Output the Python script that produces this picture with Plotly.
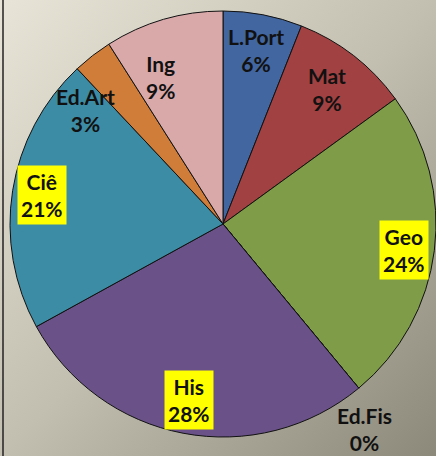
import base64
import math
import plotly.graph_objects as go

# subjects and share of the chart (in %)
subjects = ['L.Port', 'Mat', 'Geo', 'Ed.Fis', 'His', 'Ciê', 'Ed.Art', 'Ing']
shares = [6, 9, 24, 0, 28, 21, 3, 9]
highlighted = ['Geo', 'His', 'Ciê']

slice_colors = ['#4166a0', '#a14141', '#7f9c49', '#888888', '#6a5188', '#3d8ca5', '#cf7d39', '#d9a9aa']

# label placement: radius as fraction of pie radius, angle nudge in degrees
label_r = [0.83, 0.80, 0.86, 1.17, 0.84, 0.86, 0.84, 0.75]
label_nudge = [0, 0, 1, 5, 0, 0, -12.6, -7]

W, H = 436, 456
x0_px, x1_px = 10, 436
y0_px, y1_px = 10, 438
cx, cy = (x0_px + x1_px) / 2, (y0_px + y1_px) / 2
R = min(x1_px - x0_px, y1_px - y0_px) / 2

fig = go.Figure()

fig.add_trace(go.Pie(
    labels=subjects, values=shares,
    sort=False, direction='clockwise', rotation=0,
    marker=dict(colors=slice_colors, line=dict(color='#111111', width=1)),
    textinfo='none', hoverinfo='label+percent',
    showlegend=False,
    domain=dict(x=[x0_px / W, x1_px / W], y=[1 - y1_px / H, 1 - y0_px / H]),
))

# labels, placed at the middle angle of each slice
total = sum(shares)
annotations = []
cum = 0
for i, (name, v) in enumerate(zip(subjects, shares)):
    mid = (cum + v / 2) / total * 360 + label_nudge[i]
    cum += v
    th = math.radians(mid)
    px = cx + label_r[i] * R * math.sin(th)
    py = cy - label_r[i] * R * math.cos(th)
    pct = round(v / total * 100)
    annotations.append(dict(
        x=px / W, y=1 - py / H, xref='paper', yref='paper',
        xanchor='center', yanchor='middle',
        text=f'{name}<br>{pct}%', showarrow=False,
        font=dict(family='Lato', size=21, color='#111111', weight='bold'),
        bgcolor='#ffff00' if name in highlighted else 'rgba(0,0,0,0)',
        borderpad=3,
    ))

# gradient background
svg = ('<svg xmlns="http://www.w3.org/2000/svg" width="436" height="456">'
       '<defs><linearGradient id="g" x1="0" y1="0" x2="1" y2="1">'
       '<stop offset="0" stop-color="#e8e5d8"/>'
       '<stop offset="0.5" stop-color="#c2bfb0"/>'
       '<stop offset="1" stop-color="#8c887a"/>'
       '</linearGradient></defs>'
       '<rect width="436" height="456" fill="url(#g)"/></svg>')
bg_src = 'data:image/svg+xml;base64,' + base64.b64encode(svg.encode()).decode()

fig.update_layout(
    width=W, height=H,
    margin=dict(l=0, r=0, t=0, b=0),
    paper_bgcolor='#c2bfb0',
    images=[dict(source=bg_src, xref='paper', yref='paper', x=0, y=1,
                 sizex=1, sizey=1, sizing='stretch', layer='below')],
    shapes=[dict(type='line', xref='paper', yref='paper', x0=3 / W, x1=3 / W, y0=0, y1=1,
                 line=dict(color='#222222', width=1.5))],
    annotations=annotations,
)

fig.write_html('out.html', config={'displayModeBar': False},
               post_script="document.body.style.margin='0';")
